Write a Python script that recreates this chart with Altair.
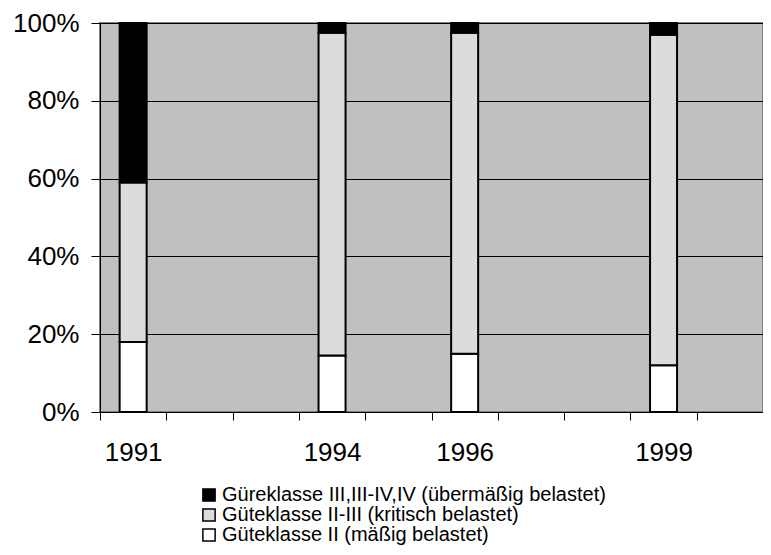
import altair as alt
import pandas as pd

all_years = [str(y) for y in range(1991, 2001)]
years = ["1991", "1994", "1996", "1999"]
classes = [
    "Güreklasse III,III-IV,IV (übermäßig belastet)",
    "Güteklasse II-III (kritisch belastet)",
    "Güteklasse II (mäßig belastet)",
]
colors = ["#000000", "#DCDCDC", "#FFFFFF"]
v_iii = [41, 2.5, 2.5, 3]
v_ii_iii = [41, 83, 82.5, 85]
v_ii = [18, 14.5, 15, 12]

rows = []
for i, y in enumerate(years):
    rows.append({"year": y, "cls": classes[2], "value": v_ii[i], "ord": 0})
    rows.append({"year": y, "cls": classes[1], "value": v_ii_iii[i], "ord": 1})
    rows.append({"year": y, "cls": classes[0], "value": v_iii[i], "ord": 2})
df = pd.DataFrame(rows)

font = "Liberation Sans"
label_expr = "indexof(['1991','1994','1996','1999'], datum.value) >= 0 ? datum.value : ''"

chart = alt.Chart(df).mark_bar(stroke="black", strokeWidth=2, width=27).encode(
    x=alt.X("year:N",
            scale=alt.Scale(domain=all_years, paddingInner=0, paddingOuter=0),
            axis=alt.Axis(title=None, labelAngle=0, tickBand="extent", labelExpr=label_expr,
                          labelFontSize=26, labelFont=font, labelColor="black",
                          tickColor="black", domainColor="black", tickSize=8,
                          labelPadding=19, grid=False)),
    y=alt.Y("value:Q", stack="normalize",
            scale=alt.Scale(domain=[0, 1]),
            axis=alt.Axis(title=None, format=".0%", values=[0, 0.2, 0.4, 0.6, 0.8, 1.0],
                          labelFontSize=26, labelFont=font, labelColor="black",
                          tickColor="black", domainColor="black", tickSize=9,
                          labelPadding=12, grid=True, gridColor="black", gridOpacity=1,
                          gridWidth=1)),
    color=alt.Color("cls:N", scale=alt.Scale(domain=classes, range=colors),
                    legend=alt.Legend(title=None, orient="none", legendX=99, legendY=462,
                                      symbolType="square", symbolSize=150,
                                      symbolStrokeColor="black", symbolStrokeWidth=1.5,
                                      labelFontSize=20, labelFont=font, labelColor="black",
                                      rowPadding=-3, labelOffset=3, labelLimit=600)),
    order=alt.Order("ord:Q", sort="ascending"),
).properties(
    width=663, height=389,
    autosize=alt.AutoSizeParams(type="none"),
    padding={"left": 92, "top": 15, "right": 0, "bottom": 135},
).configure_view(
    fill="#C0C0C0", stroke="#808080", strokeWidth=2
)

chart.save("out.html", embed_options={"renderer": "svg", "actions": False})
